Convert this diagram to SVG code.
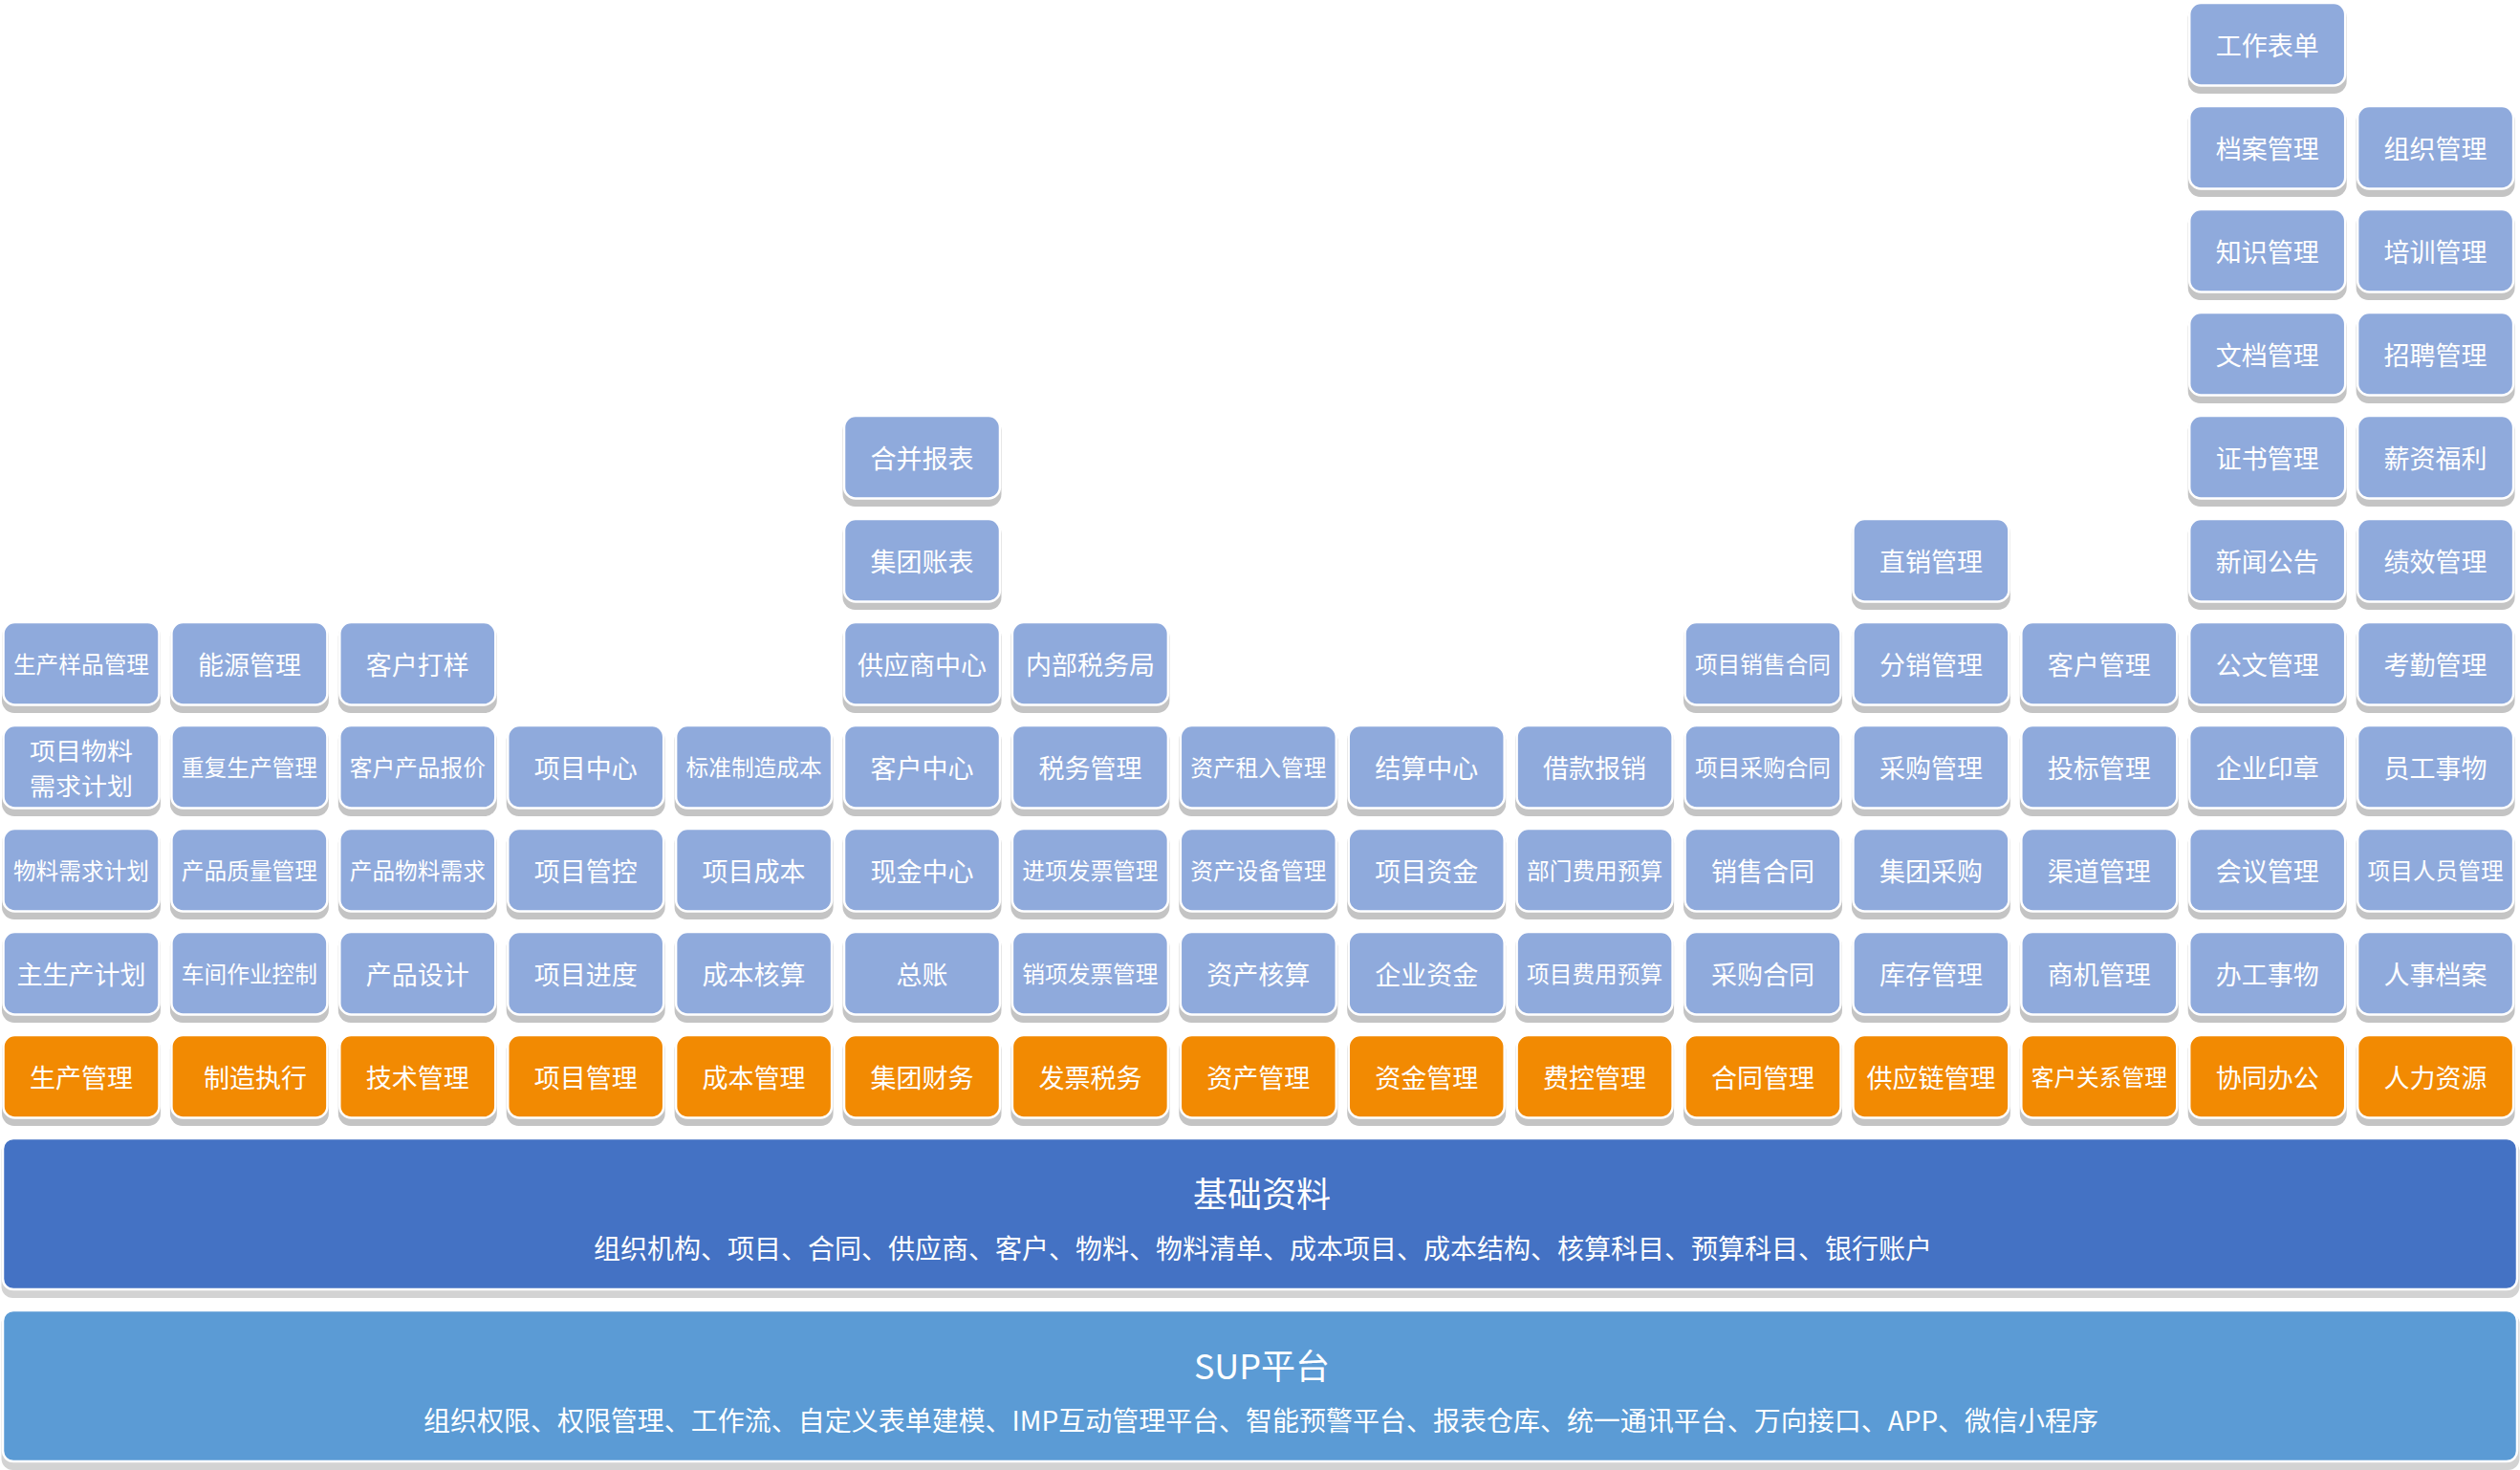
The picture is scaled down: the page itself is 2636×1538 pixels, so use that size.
<svg xmlns="http://www.w3.org/2000/svg" width="2636" height="1538" viewBox="0 0 2636 1538">
<style>
.sh{fill:#c4c4c4}
.bx{fill:#8faadc;stroke:#ffffff;stroke-width:2.5}
.or{fill:#f28a02;stroke:#ffffff;stroke-width:2.5}
.t{fill:#ffffff;font-family:"Noto Sans CJK SC","Noto Sans",sans-serif;font-size:27px;text-anchor:middle;dominant-baseline:central}
.s{font-size:23.7px}
.m{font-size:25px}
.bsh{fill:#d3d3d3}
.base{fill:#4472c4;stroke:#ffffff;stroke-width:2.5}
.sup{fill:#5b9bd5;stroke:#ffffff;stroke-width:2.5}
.tt{font-size:36px}
.st{font-size:28px}
</style>
<rect width="2636" height="1538" fill="#ffffff"/>
<g id="connectors"/>

<!-- Column 0 -->
<g id="n-shengchanguanli"><rect class="sh" x="2" y="1085" width="166" height="93" rx="13"/><rect class="or" x="3.5" y="1083" width="163" height="86.5" rx="12"/><text class="t" x="85" y="1126">生产管理</text></g>
<g id="n-zhushengchanjihua"><rect class="sh" x="2" y="977" width="166" height="93" rx="13"/><rect class="bx" x="3.5" y="975" width="163" height="86.5" rx="12"/><text class="t" x="85" y="1018">主生产计划</text></g>
<g id="n-wuliaoxuqiujihua"><rect class="sh" x="2" y="869" width="166" height="93" rx="13"/><rect class="bx" x="3.5" y="867" width="163" height="86.5" rx="12"/><text class="t s" x="85" y="910">物料需求计划</text></g>
<g id="n-xiangmuwuliao"><rect class="sh" x="2" y="761" width="166" height="93" rx="13"/><rect class="bx" x="3.5" y="759" width="163" height="86.5" rx="12"/><text class="t m" x="85" y="783.5" textLength="108" lengthAdjust="spacingAndGlyphs">项目物料</text><text class="t m" x="85" y="820.5" textLength="108" lengthAdjust="spacingAndGlyphs">需求计划</text></g>
<g id="n-shengchanyangpin"><rect class="sh" x="2" y="653" width="166" height="93" rx="13"/><rect class="bx" x="3.5" y="651" width="163" height="86.5" rx="12"/><text class="t s" x="85" y="694">生产样品管理</text></g>

<!-- Column 1 -->
<g id="n-zhizaozhixing"><rect class="sh" x="177.9" y="1085" width="166" height="93" rx="13"/><rect class="or" x="179.4" y="1083" width="163" height="86.5" rx="12"/><text class="t" x="267" y="1126">制造执行</text></g>
<g id="n-chejianzuoye"><rect class="sh" x="177.9" y="977" width="166" height="93" rx="13"/><rect class="bx" x="179.4" y="975" width="163" height="86.5" rx="12"/><text class="t s" x="260.9" y="1018">车间作业控制</text></g>
<g id="n-chanpinzhiliang"><rect class="sh" x="177.9" y="869" width="166" height="93" rx="13"/><rect class="bx" x="179.4" y="867" width="163" height="86.5" rx="12"/><text class="t s" x="260.9" y="910">产品质量管理</text></g>
<g id="n-chongfushengchan"><rect class="sh" x="177.9" y="761" width="166" height="93" rx="13"/><rect class="bx" x="179.4" y="759" width="163" height="86.5" rx="12"/><text class="t s" x="260.9" y="802">重复生产管理</text></g>
<g id="n-nengyuan"><rect class="sh" x="177.9" y="653" width="166" height="93" rx="13"/><rect class="bx" x="179.4" y="651" width="163" height="86.5" rx="12"/><text class="t" x="260.9" y="694">能源管理</text></g>

<!-- Column 2 -->
<g id="n-jishuguanli"><rect class="sh" x="353.8" y="1085" width="166" height="93" rx="13"/><rect class="or" x="355.3" y="1083" width="163" height="86.5" rx="12"/><text class="t" x="436.8" y="1126">技术管理</text></g>
<g id="n-chanpinsheji"><rect class="sh" x="353.8" y="977" width="166" height="93" rx="13"/><rect class="bx" x="355.3" y="975" width="163" height="86.5" rx="12"/><text class="t" x="436.8" y="1018">产品设计</text></g>
<g id="n-chanpinwuliao"><rect class="sh" x="353.8" y="869" width="166" height="93" rx="13"/><rect class="bx" x="355.3" y="867" width="163" height="86.5" rx="12"/><text class="t s" x="436.8" y="910">产品物料需求</text></g>
<g id="n-kehuchanpinbaojia"><rect class="sh" x="353.8" y="761" width="166" height="93" rx="13"/><rect class="bx" x="355.3" y="759" width="163" height="86.5" rx="12"/><text class="t s" x="436.8" y="802">客户产品报价</text></g>
<g id="n-kehudayang"><rect class="sh" x="353.8" y="653" width="166" height="93" rx="13"/><rect class="bx" x="355.3" y="651" width="163" height="86.5" rx="12"/><text class="t" x="436.8" y="694">客户打样</text></g>

<!-- Column 3 -->
<g id="n-xiangmuguanli"><rect class="sh" x="529.7" y="1085" width="166" height="93" rx="13"/><rect class="or" x="531.2" y="1083" width="163" height="86.5" rx="12"/><text class="t" x="612.7" y="1126">项目管理</text></g>
<g id="n-xiangmujindu"><rect class="sh" x="529.7" y="977" width="166" height="93" rx="13"/><rect class="bx" x="531.2" y="975" width="163" height="86.5" rx="12"/><text class="t" x="612.7" y="1018">项目进度</text></g>
<g id="n-xiangmuguankong"><rect class="sh" x="529.7" y="869" width="166" height="93" rx="13"/><rect class="bx" x="531.2" y="867" width="163" height="86.5" rx="12"/><text class="t" x="612.7" y="910">项目管控</text></g>
<g id="n-xiangmuzhongxin"><rect class="sh" x="529.7" y="761" width="166" height="93" rx="13"/><rect class="bx" x="531.2" y="759" width="163" height="86.5" rx="12"/><text class="t" x="612.7" y="802">项目中心</text></g>

<!-- Column 4 -->
<g id="n-chengbenguanli"><rect class="sh" x="705.6" y="1085" width="166" height="93" rx="13"/><rect class="or" x="707.1" y="1083" width="163" height="86.5" rx="12"/><text class="t" x="788.6" y="1126">成本管理</text></g>
<g id="n-chengbenhesuan"><rect class="sh" x="705.6" y="977" width="166" height="93" rx="13"/><rect class="bx" x="707.1" y="975" width="163" height="86.5" rx="12"/><text class="t" x="788.6" y="1018">成本核算</text></g>
<g id="n-xiangmuchengben"><rect class="sh" x="705.6" y="869" width="166" height="93" rx="13"/><rect class="bx" x="707.1" y="867" width="163" height="86.5" rx="12"/><text class="t" x="788.6" y="910">项目成本</text></g>
<g id="n-biaozhunzhizao"><rect class="sh" x="705.6" y="761" width="166" height="93" rx="13"/><rect class="bx" x="707.1" y="759" width="163" height="86.5" rx="12"/><text class="t s" x="788.6" y="802">标准制造成本</text></g>

<!-- Column 5 -->
<g id="n-jituancaiwu"><rect class="sh" x="881.5" y="1085" width="166" height="93" rx="13"/><rect class="or" x="883" y="1083" width="163" height="86.5" rx="12"/><text class="t" x="964.5" y="1126">集团财务</text></g>
<g id="n-zongzhang"><rect class="sh" x="881.5" y="977" width="166" height="93" rx="13"/><rect class="bx" x="883" y="975" width="163" height="86.5" rx="12"/><text class="t" x="964.5" y="1018">总账</text></g>
<g id="n-xianjinzhongxin"><rect class="sh" x="881.5" y="869" width="166" height="93" rx="13"/><rect class="bx" x="883" y="867" width="163" height="86.5" rx="12"/><text class="t" x="964.5" y="910">现金中心</text></g>
<g id="n-kehuzhongxin"><rect class="sh" x="881.5" y="761" width="166" height="93" rx="13"/><rect class="bx" x="883" y="759" width="163" height="86.5" rx="12"/><text class="t" x="964.5" y="802">客户中心</text></g>
<g id="n-gongyingshangzhongxin"><rect class="sh" x="881.5" y="653" width="166" height="93" rx="13"/><rect class="bx" x="883" y="651" width="163" height="86.5" rx="12"/><text class="t" x="964.5" y="694">供应商中心</text></g>
<g id="n-jituanzhangbiao"><rect class="sh" x="881.5" y="545" width="166" height="93" rx="13"/><rect class="bx" x="883" y="543" width="163" height="86.5" rx="12"/><text class="t" x="964.5" y="586">集团账表</text></g>
<g id="n-hebingbaobiao"><rect class="sh" x="881.5" y="437" width="166" height="93" rx="13"/><rect class="bx" x="883" y="435" width="163" height="86.5" rx="12"/><text class="t" x="964.5" y="478">合并报表</text></g>

<!-- Column 6 -->
<g id="n-fapiaoshuiwu"><rect class="sh" x="1057.4" y="1085" width="166" height="93" rx="13"/><rect class="or" x="1058.9" y="1083" width="163" height="86.5" rx="12"/><text class="t" x="1140.4" y="1126">发票税务</text></g>
<g id="n-xiaoxiangfapiao"><rect class="sh" x="1057.4" y="977" width="166" height="93" rx="13"/><rect class="bx" x="1058.9" y="975" width="163" height="86.5" rx="12"/><text class="t s" x="1140.4" y="1018">销项发票管理</text></g>
<g id="n-jinxiangfapiao"><rect class="sh" x="1057.4" y="869" width="166" height="93" rx="13"/><rect class="bx" x="1058.9" y="867" width="163" height="86.5" rx="12"/><text class="t s" x="1140.4" y="910">进项发票管理</text></g>
<g id="n-shuiwuguanli"><rect class="sh" x="1057.4" y="761" width="166" height="93" rx="13"/><rect class="bx" x="1058.9" y="759" width="163" height="86.5" rx="12"/><text class="t" x="1140.4" y="802">税务管理</text></g>
<g id="n-neibushuiwuju"><rect class="sh" x="1057.4" y="653" width="166" height="93" rx="13"/><rect class="bx" x="1058.9" y="651" width="163" height="86.5" rx="12"/><text class="t" x="1140.4" y="694">内部税务局</text></g>

<!-- Column 7 -->
<g id="n-zichanguanli"><rect class="sh" x="1233.3" y="1085" width="166" height="93" rx="13"/><rect class="or" x="1234.8" y="1083" width="163" height="86.5" rx="12"/><text class="t" x="1316.3" y="1126">资产管理</text></g>
<g id="n-zichanhesuan"><rect class="sh" x="1233.3" y="977" width="166" height="93" rx="13"/><rect class="bx" x="1234.8" y="975" width="163" height="86.5" rx="12"/><text class="t" x="1316.3" y="1018">资产核算</text></g>
<g id="n-zichanshebei"><rect class="sh" x="1233.3" y="869" width="166" height="93" rx="13"/><rect class="bx" x="1234.8" y="867" width="163" height="86.5" rx="12"/><text class="t s" x="1316.3" y="910">资产设备管理</text></g>
<g id="n-zichanzuru"><rect class="sh" x="1233.3" y="761" width="166" height="93" rx="13"/><rect class="bx" x="1234.8" y="759" width="163" height="86.5" rx="12"/><text class="t s" x="1316.3" y="802">资产租入管理</text></g>

<!-- Column 8 -->
<g id="n-zijinguanli"><rect class="sh" x="1409.2" y="1085" width="166" height="93" rx="13"/><rect class="or" x="1410.7" y="1083" width="163" height="86.5" rx="12"/><text class="t" x="1492.2" y="1126">资金管理</text></g>
<g id="n-qiyezijin"><rect class="sh" x="1409.2" y="977" width="166" height="93" rx="13"/><rect class="bx" x="1410.7" y="975" width="163" height="86.5" rx="12"/><text class="t" x="1492.2" y="1018">企业资金</text></g>
<g id="n-xiangmuzijin"><rect class="sh" x="1409.2" y="869" width="166" height="93" rx="13"/><rect class="bx" x="1410.7" y="867" width="163" height="86.5" rx="12"/><text class="t" x="1492.2" y="910">项目资金</text></g>
<g id="n-jiesuanzhongxin"><rect class="sh" x="1409.2" y="761" width="166" height="93" rx="13"/><rect class="bx" x="1410.7" y="759" width="163" height="86.5" rx="12"/><text class="t" x="1492.2" y="802">结算中心</text></g>

<!-- Column 9 -->
<g id="n-feikongguanli"><rect class="sh" x="1585.1" y="1085" width="166" height="93" rx="13"/><rect class="or" x="1586.6" y="1083" width="163" height="86.5" rx="12"/><text class="t" x="1668.1" y="1126">费控管理</text></g>
<g id="n-xiangmufeiyong"><rect class="sh" x="1585.1" y="977" width="166" height="93" rx="13"/><rect class="bx" x="1586.6" y="975" width="163" height="86.5" rx="12"/><text class="t s" x="1668.1" y="1018">项目费用预算</text></g>
<g id="n-bumenfeiyong"><rect class="sh" x="1585.1" y="869" width="166" height="93" rx="13"/><rect class="bx" x="1586.6" y="867" width="163" height="86.5" rx="12"/><text class="t s" x="1668.1" y="910">部门费用预算</text></g>
<g id="n-jiekuanbaoxiao"><rect class="sh" x="1585.1" y="761" width="166" height="93" rx="13"/><rect class="bx" x="1586.6" y="759" width="163" height="86.5" rx="12"/><text class="t" x="1668.1" y="802">借款报销</text></g>

<!-- Column 10 -->
<g id="n-hetongguanli"><rect class="sh" x="1761" y="1085" width="166" height="93" rx="13"/><rect class="or" x="1762.5" y="1083" width="163" height="86.5" rx="12"/><text class="t" x="1844" y="1126">合同管理</text></g>
<g id="n-caigouhetong"><rect class="sh" x="1761" y="977" width="166" height="93" rx="13"/><rect class="bx" x="1762.5" y="975" width="163" height="86.5" rx="12"/><text class="t" x="1844" y="1018">采购合同</text></g>
<g id="n-xiaoshouhetong"><rect class="sh" x="1761" y="869" width="166" height="93" rx="13"/><rect class="bx" x="1762.5" y="867" width="163" height="86.5" rx="12"/><text class="t" x="1844" y="910">销售合同</text></g>
<g id="n-xiangmucaigouhetong"><rect class="sh" x="1761" y="761" width="166" height="93" rx="13"/><rect class="bx" x="1762.5" y="759" width="163" height="86.5" rx="12"/><text class="t s" x="1844" y="802">项目采购合同</text></g>
<g id="n-xiangmuxiaoshouhetong"><rect class="sh" x="1761" y="653" width="166" height="93" rx="13"/><rect class="bx" x="1762.5" y="651" width="163" height="86.5" rx="12"/><text class="t s" x="1844" y="694">项目销售合同</text></g>

<!-- Column 11 -->
<g id="n-gongyinglian"><rect class="sh" x="1936.9" y="1085" width="166" height="93" rx="13"/><rect class="or" x="1938.4" y="1083" width="163" height="86.5" rx="12"/><text class="t" x="2019.9" y="1126">供应链管理</text></g>
<g id="n-kucunguanli"><rect class="sh" x="1936.9" y="977" width="166" height="93" rx="13"/><rect class="bx" x="1938.4" y="975" width="163" height="86.5" rx="12"/><text class="t" x="2019.9" y="1018">库存管理</text></g>
<g id="n-jituancaigou"><rect class="sh" x="1936.9" y="869" width="166" height="93" rx="13"/><rect class="bx" x="1938.4" y="867" width="163" height="86.5" rx="12"/><text class="t" x="2019.9" y="910">集团采购</text></g>
<g id="n-caigouguanli"><rect class="sh" x="1936.9" y="761" width="166" height="93" rx="13"/><rect class="bx" x="1938.4" y="759" width="163" height="86.5" rx="12"/><text class="t" x="2019.9" y="802">采购管理</text></g>
<g id="n-fenxiaoguanli"><rect class="sh" x="1936.9" y="653" width="166" height="93" rx="13"/><rect class="bx" x="1938.4" y="651" width="163" height="86.5" rx="12"/><text class="t" x="2019.9" y="694">分销管理</text></g>
<g id="n-zhixiaoguanli"><rect class="sh" x="1936.9" y="545" width="166" height="93" rx="13"/><rect class="bx" x="1938.4" y="543" width="163" height="86.5" rx="12"/><text class="t" x="2019.9" y="586">直销管理</text></g>

<!-- Column 12 -->
<g id="n-kehuguanxi"><rect class="sh" x="2112.8" y="1085" width="166" height="93" rx="13"/><rect class="or" x="2114.3" y="1083" width="163" height="86.5" rx="12"/><text class="t s" x="2195.8" y="1126">客户关系管理</text></g>
<g id="n-shangjiguanli"><rect class="sh" x="2112.8" y="977" width="166" height="93" rx="13"/><rect class="bx" x="2114.3" y="975" width="163" height="86.5" rx="12"/><text class="t" x="2195.8" y="1018">商机管理</text></g>
<g id="n-qudaoguanli"><rect class="sh" x="2112.8" y="869" width="166" height="93" rx="13"/><rect class="bx" x="2114.3" y="867" width="163" height="86.5" rx="12"/><text class="t" x="2195.8" y="910">渠道管理</text></g>
<g id="n-toubiaoguanli"><rect class="sh" x="2112.8" y="761" width="166" height="93" rx="13"/><rect class="bx" x="2114.3" y="759" width="163" height="86.5" rx="12"/><text class="t" x="2195.8" y="802">投标管理</text></g>
<g id="n-kehuguanli"><rect class="sh" x="2112.8" y="653" width="166" height="93" rx="13"/><rect class="bx" x="2114.3" y="651" width="163" height="86.5" rx="12"/><text class="t" x="2195.8" y="694">客户管理</text></g>

<!-- Column 13 -->
<g id="n-xietongbangong"><rect class="sh" x="2288.7" y="1085" width="166" height="93" rx="13"/><rect class="or" x="2290.2" y="1083" width="163" height="86.5" rx="12"/><text class="t" x="2371.7" y="1126">协同办公</text></g>
<g id="n-bangongshiwu"><rect class="sh" x="2288.7" y="977" width="166" height="93" rx="13"/><rect class="bx" x="2290.2" y="975" width="163" height="86.5" rx="12"/><text class="t" x="2371.7" y="1018">办工事物</text></g>
<g id="n-huiyiguanli"><rect class="sh" x="2288.7" y="869" width="166" height="93" rx="13"/><rect class="bx" x="2290.2" y="867" width="163" height="86.5" rx="12"/><text class="t" x="2371.7" y="910">会议管理</text></g>
<g id="n-qiyeyinzhang"><rect class="sh" x="2288.7" y="761" width="166" height="93" rx="13"/><rect class="bx" x="2290.2" y="759" width="163" height="86.5" rx="12"/><text class="t" x="2371.7" y="802">企业印章</text></g>
<g id="n-gongwenguanli"><rect class="sh" x="2288.7" y="653" width="166" height="93" rx="13"/><rect class="bx" x="2290.2" y="651" width="163" height="86.5" rx="12"/><text class="t" x="2371.7" y="694">公文管理</text></g>
<g id="n-xinwengonggao"><rect class="sh" x="2288.7" y="545" width="166" height="93" rx="13"/><rect class="bx" x="2290.2" y="543" width="163" height="86.5" rx="12"/><text class="t" x="2371.7" y="586">新闻公告</text></g>
<g id="n-zhengshuguanli"><rect class="sh" x="2288.7" y="437" width="166" height="93" rx="13"/><rect class="bx" x="2290.2" y="435" width="163" height="86.5" rx="12"/><text class="t" x="2371.7" y="478">证书管理</text></g>
<g id="n-wendangguanli"><rect class="sh" x="2288.7" y="329" width="166" height="93" rx="13"/><rect class="bx" x="2290.2" y="327" width="163" height="86.5" rx="12"/><text class="t" x="2371.7" y="370">文档管理</text></g>
<g id="n-zhishiguanli"><rect class="sh" x="2288.7" y="221" width="166" height="93" rx="13"/><rect class="bx" x="2290.2" y="219" width="163" height="86.5" rx="12"/><text class="t" x="2371.7" y="262">知识管理</text></g>
<g id="n-danganguanli"><rect class="sh" x="2288.7" y="113" width="166" height="93" rx="13"/><rect class="bx" x="2290.2" y="111" width="163" height="86.5" rx="12"/><text class="t" x="2371.7" y="154">档案管理</text></g>
<g id="n-gongzuobiaodan"><rect class="sh" x="2288.7" y="5" width="166" height="93" rx="13"/><rect class="bx" x="2290.2" y="3" width="163" height="86.5" rx="12"/><text class="t" x="2371.7" y="46">工作表单</text></g>

<!-- Column 14 -->
<g id="n-renliziyuan"><rect class="sh" x="2464.6" y="1085" width="166" height="93" rx="13"/><rect class="or" x="2466.1" y="1083" width="163" height="86.5" rx="12"/><text class="t" x="2547.6" y="1126">人力资源</text></g>
<g id="n-renshidangan"><rect class="sh" x="2464.6" y="977" width="166" height="93" rx="13"/><rect class="bx" x="2466.1" y="975" width="163" height="86.5" rx="12"/><text class="t" x="2547.6" y="1018">人事档案</text></g>
<g id="n-xiangmurenyuan"><rect class="sh" x="2464.6" y="869" width="166" height="93" rx="13"/><rect class="bx" x="2466.1" y="867" width="163" height="86.5" rx="12"/><text class="t s" x="2547.6" y="910">项目人员管理</text></g>
<g id="n-yuangongshiwu"><rect class="sh" x="2464.6" y="761" width="166" height="93" rx="13"/><rect class="bx" x="2466.1" y="759" width="163" height="86.5" rx="12"/><text class="t" x="2547.6" y="802">员工事物</text></g>
<g id="n-kaoqinguanli"><rect class="sh" x="2464.6" y="653" width="166" height="93" rx="13"/><rect class="bx" x="2466.1" y="651" width="163" height="86.5" rx="12"/><text class="t" x="2547.6" y="694">考勤管理</text></g>
<g id="n-jixiaoguanli"><rect class="sh" x="2464.6" y="545" width="166" height="93" rx="13"/><rect class="bx" x="2466.1" y="543" width="163" height="86.5" rx="12"/><text class="t" x="2547.6" y="586">绩效管理</text></g>
<g id="n-xinzifuli"><rect class="sh" x="2464.6" y="437" width="166" height="93" rx="13"/><rect class="bx" x="2466.1" y="435" width="163" height="86.5" rx="12"/><text class="t" x="2547.6" y="478">薪资福利</text></g>
<g id="n-zhaopinguanli"><rect class="sh" x="2464.6" y="329" width="166" height="93" rx="13"/><rect class="bx" x="2466.1" y="327" width="163" height="86.5" rx="12"/><text class="t" x="2547.6" y="370">招聘管理</text></g>
<g id="n-peixunguanli"><rect class="sh" x="2464.6" y="221" width="166" height="93" rx="13"/><rect class="bx" x="2466.1" y="219" width="163" height="86.5" rx="12"/><text class="t" x="2547.6" y="262">培训管理</text></g>
<g id="n-zuzhiguanli"><rect class="sh" x="2464.6" y="113" width="166" height="93" rx="13"/><rect class="bx" x="2466.1" y="111" width="163" height="86.5" rx="12"/><text class="t" x="2547.6" y="154">组织管理</text></g>

<!-- Base data bar -->
<g id="n-jichuziliao"><rect class="bsh" x="1.5" y="1193" width="2634" height="165" rx="12"/><rect class="base" x="3" y="1191" width="2630" height="158" rx="11"/><text class="t tt" x="1320" y="1247">基础资料</text><text class="t st" x="1321" y="1305" textLength="1400" lengthAdjust="spacingAndGlyphs">组织机构、项目、合同、供应商、客户、物料、物料清单、成本项目、成本结构、核算科目、预算科目、银行账户</text></g>

<!-- SUP platform bar -->
<g id="n-sup"><rect class="bsh" x="1.5" y="1373" width="2634" height="165" rx="12"/><rect class="sup" x="3" y="1371" width="2630" height="158" rx="11"/><text class="t tt" x="1320" y="1427">SUP平台</text><text class="t st" x="1319" y="1485" textLength="1752" lengthAdjust="spacingAndGlyphs">组织权限、权限管理、工作流、自定义表单建模、IMP互动管理平台、智能预警平台、报表仓库、统一通讯平台、万向接口、APP、微信小程序</text></g>
</svg>
